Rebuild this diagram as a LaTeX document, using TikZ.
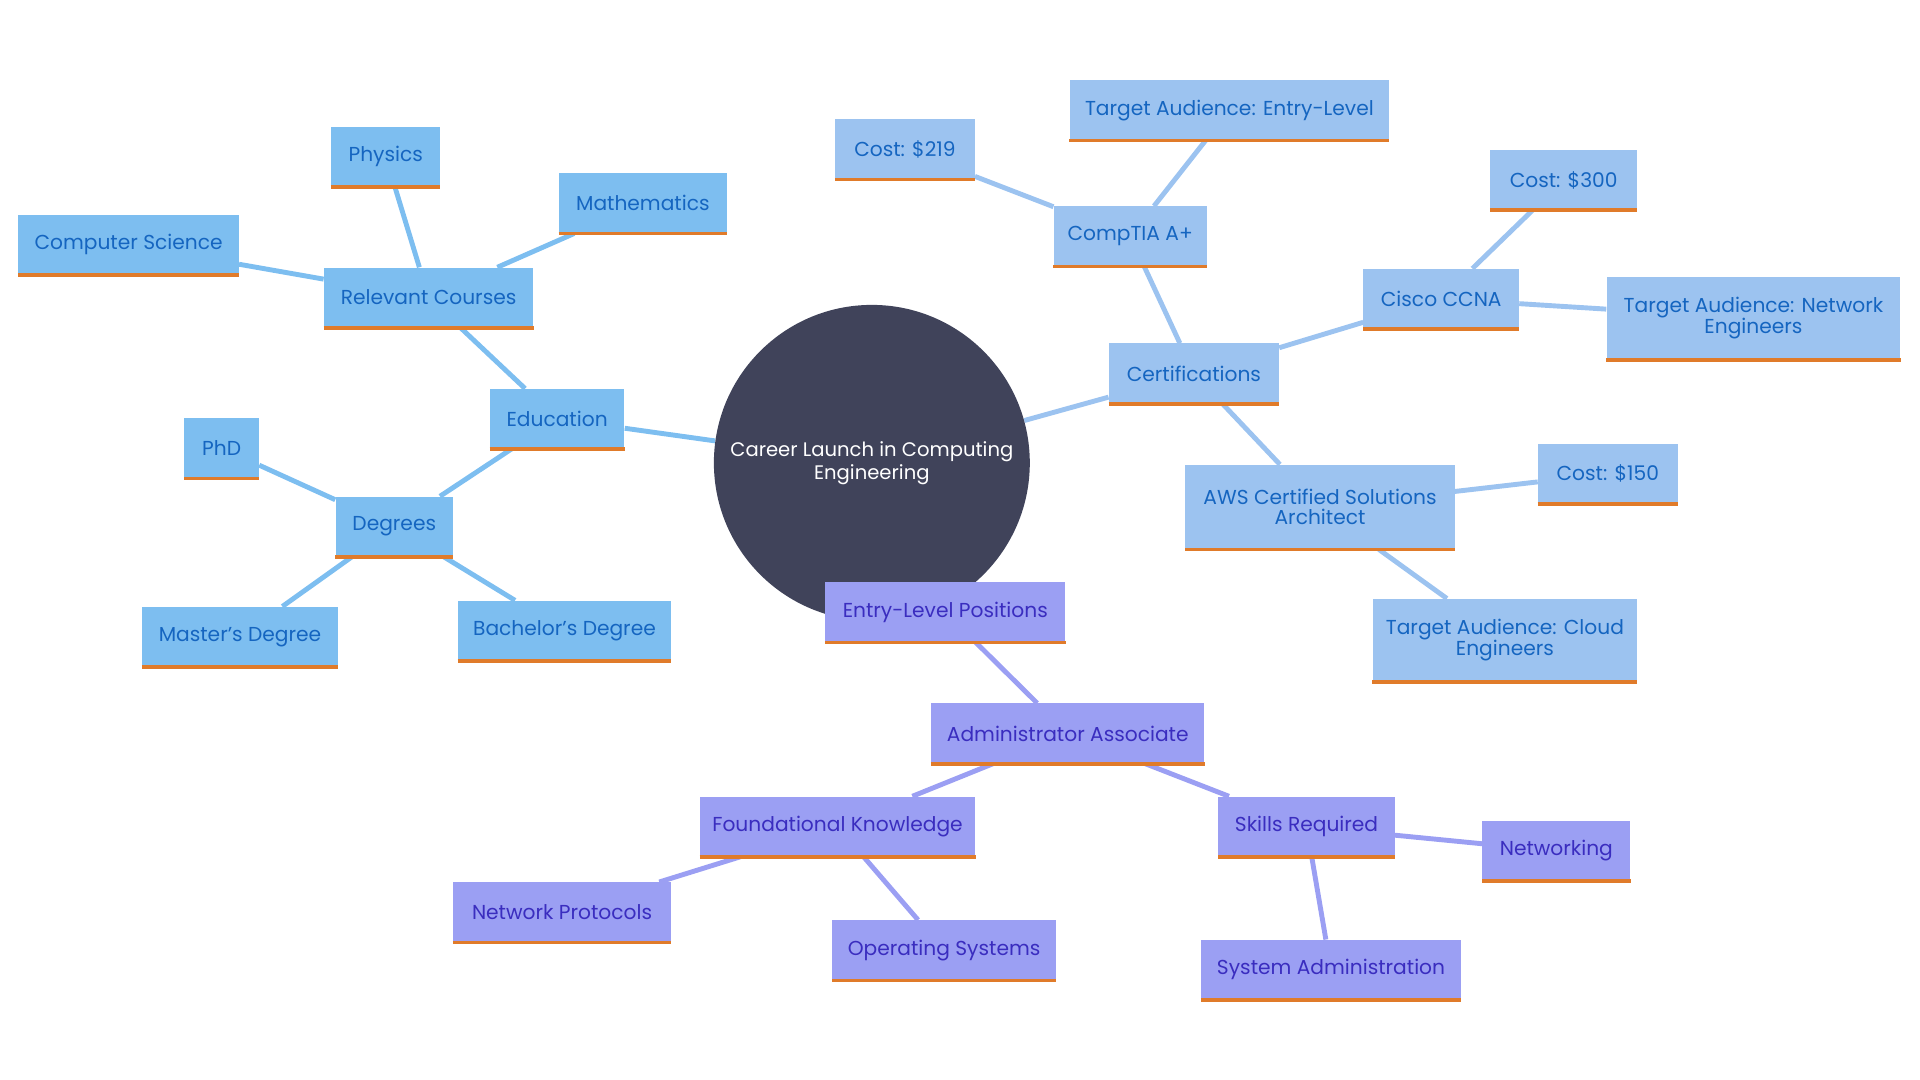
\documentclass[tikz,border=0pt]{standalone}
\usepackage{fontspec}
\setmainfont{Poppins}
\usetikzlibrary{backgrounds}
\definecolor{bfill}{HTML}{7DBEF0}
\definecolor{cfill}{HTML}{9CC3F0}
\definecolor{pfill}{HTML}{9B9FF3}
\definecolor{btext}{HTML}{1565C0}
\definecolor{ptext}{HTML}{3A2DBF}
\definecolor{obar}{HTML}{E07B2A}
\definecolor{ybar}{HTML}{D2C83A}
\definecolor{hub}{HTML}{40435A}
\tikzset{
 x=1pt,y=-1pt,
 base/.style={rectangle,inner sep=0pt,font=\fontsize{16.5}{19}\selectfont,align=center},
 bn/.style={base,fill=bfill,text=btext},
 cn/.style={base,fill=cfill,text=btext},
 pn/.style={base,fill=pfill,text=ptext},
 ob/.style={obar,line width=3pt},
 yb/.style={ybar,line width=3pt},
 be/.style={bfill,line width=4pt},
 ce/.style={cfill,line width=4pt},
 pe/.style={pfill,line width=4pt},
}
\newcommand{\bx}[7]{\node[#1,minimum width=#5,minimum height=#6] (#2) at (#3,#4) {#7};
 \ifx#1pn\draw[yb] (#2.south west)--(#2.south east);\else\draw[ob] (#2.south west)--(#2.south east);\fi}
\begin{document}
\begin{tikzpicture}
\useasboundingbox (0,0) rectangle (1568,882);
\node[circle,fill=hub,minimum size=258pt,text=white,align=center,font=\fontsize{16}{19}\selectfont] (hub) at (712,378) {Career Launch in Computing\\Engineering};
\bx{bn}{edu}{455}{342}{110pt}{49pt}{Education}
\bx{bn}{rc}{350}{243}{171pt}{49pt}{Relevant Courses}
\bx{bn}{phy}{315}{128}{89pt}{49pt}{Physics}
\bx{bn}{math}{525}{166}{137pt}{49pt}{Mathematics}
\bx{bn}{cs}{105}{200}{180pt}{49pt}{Computer Science}
\bx{bn}{deg}{322}{430}{96pt}{49pt}{Degrees}
\bx{bn}{phd}{181}{366}{61pt}{49pt}{PhD}
\bx{bn}{ms}{196}{520}{160pt}{49pt}{Master's Degree}
\bx{bn}{bs}{461}{515}{174pt}{49pt}{Bachelor's Degree}
\bx{cn}{cert}{975}{305}{139pt}{49pt}{Certifications}
\bx{cn}{comp}{923}{193}{125pt}{49pt}{CompTIA A+}
\bx{cn}{c219}{739}{122}{114pt}{49pt}{Cost: \$219}
\bx{cn}{tel}{1004}{90}{261pt}{49pt}{Target Audience: Entry-Level}
\bx{cn}{ccna}{1177}{244}{127pt}{49pt}{Cisco CCNA}
\bx{cn}{c300}{1277}{147}{120pt}{49pt}{Cost: \$300}
\bx{cn}{tne}{1432}{260}{240pt}{68pt}{Target Audience: Network\\[-2pt]Engineers}
\bx{cn}{aws}{1078}{414}{220pt}{69pt}{AWS Certified Solutions\\[-2pt]Architect}
\bx{cn}{c150}{1313}{387}{114pt}{49pt}{Cost: \$150}
\bx{cn}{tce}{1229}{523}{216pt}{68pt}{Target Audience: Cloud\\[-2pt]Engineers}
\bx{pn}{elp}{772}{500}{196pt}{49pt}{Entry-Level Positions}
\bx{pn}{aa}{872}{599}{223pt}{49pt}{Administrator Associate}
\bx{pn}{fk}{684}{675}{225pt}{49pt}{Foundational Knowledge}
\bx{pn}{np}{459}{745}{178pt}{49pt}{Network Protocols}
\bx{pn}{os}{771}{776}{183pt}{49pt}{Operating Systems}
\bx{pn}{sr}{1067}{675}{144pt}{49pt}{Skills Required}
\bx{pn}{net}{1271}{695}{121pt}{49pt}{Networking}
\bx{pn}{sa}{1087}{792}{212pt}{49pt}{System Administration}
\begin{pgfonlayer}{background}
\draw[be] (hub)--(edu); \draw[be] (edu)--(rc); \draw[be] (rc)--(phy);
\draw[be] (rc)--(math); \draw[be] (rc)--(cs); \draw[be] (edu)--(deg);
\draw[be] (deg)--(phd); \draw[be] (deg)--(ms); \draw[be] (deg)--(bs);
\draw[ce] (hub)--(cert); \draw[ce] (cert)--(comp); \draw[ce] (comp)--(c219);
\draw[ce] (comp)--(tel); \draw[ce] (cert)--(ccna); \draw[ce] (ccna)--(c300);
\draw[ce] (ccna)--(tne); \draw[ce] (cert)--(aws); \draw[ce] (aws)--(c150);
\draw[ce] (aws)--(tce);
\draw[pe] (elp)--(aa); \draw[pe] (aa)--(fk); \draw[pe] (fk)--(np);
\draw[pe] (fk)--(os); \draw[pe] (aa)--(sr); \draw[pe] (sr)--(net); \draw[pe] (sr)--(sa);
\end{pgfonlayer}
\end{tikzpicture}
\end{document}
